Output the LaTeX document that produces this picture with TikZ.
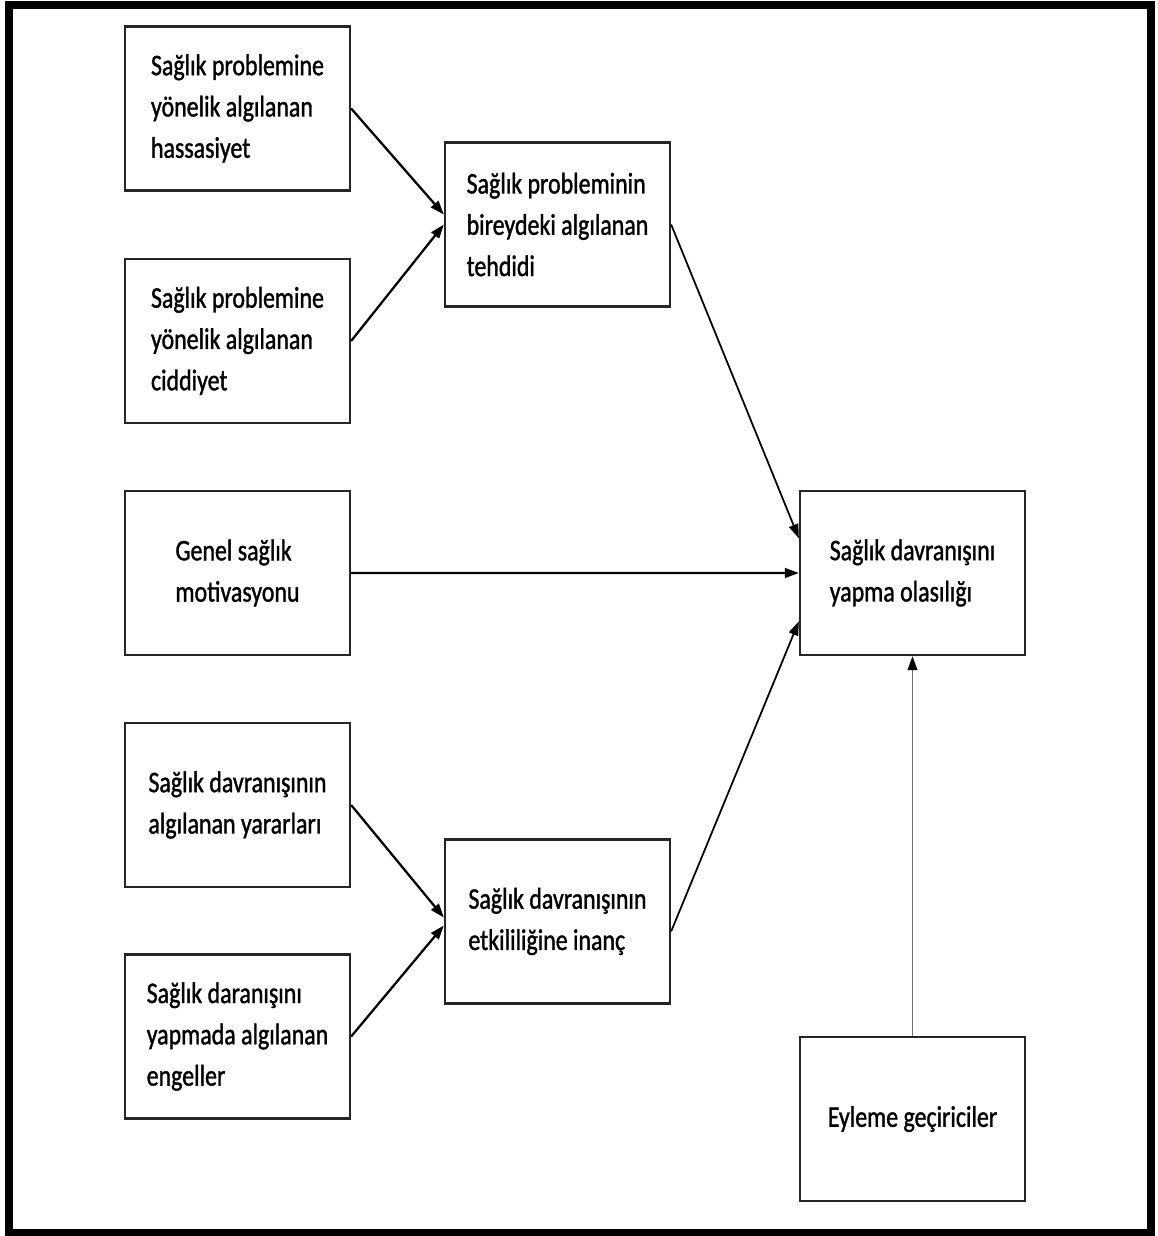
\documentclass[tikz,border=0pt]{standalone}
\usepackage{fontspec}
\newfontfamily\boxfont[FakeStretch=0.8,FakeBold=1.2]{Carlito}
\usetikzlibrary{arrows.meta}

\begin{document}
\begin{tikzpicture}[>={Triangle[length=8pt,width=5.5pt]}, line width=1.2pt]
    \tikzstyle{box}=[draw=black!85, line width=1.3pt, minimum width=4.5cm, minimum height=3.28cm, inner sep=0pt, align=left, font=\boxfont\fontsize{17pt}{23.5pt}\selectfont]
    \tikzstyle{link}=[->, line width=1.3pt]
    \tikzstyle{thin link}=[->, line width=1pt]
    \useasboundingbox (0,0) rectangle (23.14,-24.72);
    \draw[line width=0.16cm] (0.18,-0.10) rectangle (23.02,-24.66);
    \path
    % Left column
    (4.75,-2.17) node[box] (susceptibility) {Sağlık problemine\\yönelik algılanan\\hassasiyet}
    +(0,-4.65)  node[box] (severity) {Sağlık problemine\\yönelik algılanan\\ciddiyet}
    +(0,-9.29)  node[box] (motivation) {Genel sağlık\\motivasyonu}
    +(0,-13.93) node[box] (benefits) {Sağlık davranışının\\algılanan yararları}
    +(0,-18.56) node[box] (barriers) {Sağlık daranışını\\yapmada algılanan\\engeller}

    % Middle column
    (11.15,-4.49) node[box] (threat) {Sağlık probleminin\\bireydeki algılanan\\tehdidi}
    +(0,-13.94)   node[box] (efficacy) {Sağlık davranışının\\etkililiğine inanç}

    % Right column
    (18.25,-11.46) node[box] (likelihood) {Sağlık davranışını\\yapma olasılığı}
    +(0,-10.92)    node[box] (cues) {Eyleme geçiriciler};

    % Link the different parts of the model
    \draw[link] (susceptibility.east)--(threat.175);
    \draw[link] (severity.east)--(threat.west);
    \draw[thin link] (threat.east)--(likelihood.163);
    \draw[link] (motivation)--(likelihood);
    \draw[link] (benefits.east)--(efficacy.178);
    \draw[link] (barriers.east)--(efficacy.182);
    \draw[thin link] (efficacy.-5)--(likelihood.203);
    \draw[draw=black!55, line width=1.1pt, -{Triangle[length=8pt,width=5.5pt,color=black]}] (cues)--(likelihood);
\end{tikzpicture}
\end{document}
